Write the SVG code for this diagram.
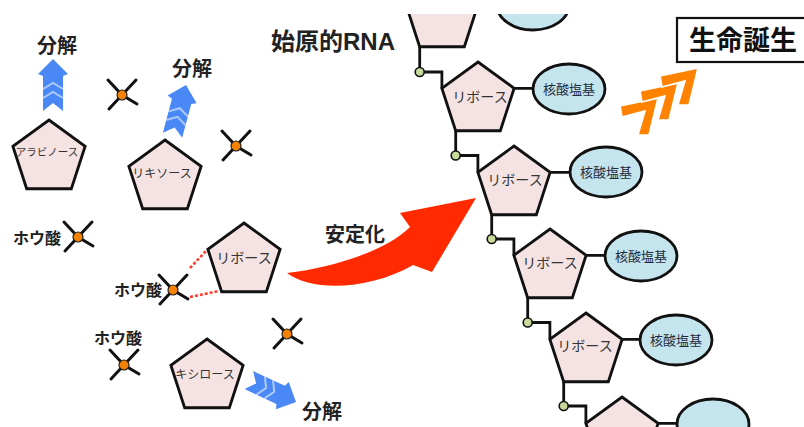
<svg xmlns="http://www.w3.org/2000/svg" xmlns:xlink="http://www.w3.org/1999/xlink" width="804" height="427" viewBox="0 0 804 427">
<style>
.pent{fill:#f5e3e3;stroke:#111;stroke-width:2.8;stroke-linejoin:miter}
.ell{fill:#c4e4ee;stroke:#111;stroke-width:2.8}
.link{fill:none;stroke:#111;stroke-width:2.8}
.ph{fill:#c8d99a;stroke:#111;stroke-width:1.6}
.t{font-family:'Liberation Sans','Noto Sans CJK JP',sans-serif;text-anchor:middle;dominant-baseline:central}
.ps{font-size:14px;fill:#333}
.ps2{font-size:12px;fill:#333}
.ps3{font-size:10.5px;fill:#333}
.es{font-size:13px;fill:#1e2a3a}
.lb{font-weight:bold;fill:#222}
.cross{fill:none;stroke:#111;stroke-width:3;stroke-linecap:round}
.dot{fill:#f58200;stroke:#222;stroke-width:1.2}
.blue{fill:#4a88f5}
.chev{fill:#ff8200;stroke:#fff;stroke-width:1.6;stroke-linejoin:miter}
.dash{fill:none;stroke:#ff4030;stroke-width:2.6;stroke-dasharray:3 2}
</style>
<defs>
<polygon id="pent" points="0,-38 36.14,-11.74 22.34,30.74 -22.34,30.74 -36.14,-11.74"/>
<g id="boric">
<path class="cross" d="M-14,-15 L0,0 L15,9 M14,-15 L0,0 L-13,14"/>
<circle class="dot" cx="0" cy="0" r="5"/>
</g>
<g id="barrow">
<polygon class="blue" points="0,0 15,15 10,17 10,52 0,44 -10,52 -10,17 -15,15"/>
<polyline points="-10,30 0,24 10,30" fill="none" stroke="#fff" stroke-opacity="0.55" stroke-width="2"/>
<polyline points="-10,39 0,33 10,39" fill="none" stroke="#fff" stroke-opacity="0.55" stroke-width="2"/>
</g>
<polygon id="chev" class="chev" points="-38,8 0,0 -9,37 -20,37 -13,13 -36,19"/>
<clipPath id="clipTop"><rect x="0" y="14" width="804" height="413"/></clipPath>
</defs>

<!-- left sugars -->
<g id="arabinose"><use xlink:href="#pent" class="pent" transform="translate(49,158)"/><text class="t ps3" x="47" y="152">アラビノース</text></g>
<g id="lyxose"><use xlink:href="#pent" class="pent" transform="translate(165,178)"/><text class="t ps2" x="162" y="174">リキソース</text></g>
<g id="ribose-free"><use xlink:href="#pent" class="pent" transform="translate(244,261)"/><text class="t ps" x="244" y="258">リボース</text></g>
<g id="xylose"><use xlink:href="#pent" class="pent" transform="translate(207,377)"/><text class="t ps2" x="205" y="375">キシロース</text></g>

<!-- boric acids -->
<g id="boric1"><use xlink:href="#boric" transform="translate(122,95)"/></g>
<g id="boric2"><use xlink:href="#boric" transform="translate(236,146)"/></g>
<g id="boric3"><use xlink:href="#boric" transform="translate(78,237)"/><text class="t lb" style="font-size:16px" x="37" y="238">ホウ酸</text></g>
<g id="boric4"><use xlink:href="#boric" transform="translate(173,290)"/><text class="t lb" style="font-size:16px" x="138" y="290">ホウ酸</text></g>
<g id="boric5"><use xlink:href="#boric" transform="translate(124,365)"/><text class="t lb" style="font-size:16px" x="118" y="338">ホウ酸</text></g>
<g id="boric6"><use xlink:href="#boric" transform="translate(287,334)"/></g>

<!-- decomposition arrows -->
<g id="decomp1"><use xlink:href="#barrow" transform="translate(53,59)"/><text class="t lb" style="font-size:20px" x="57" y="46">分解</text></g>
<g id="decomp2"><use xlink:href="#barrow" transform="translate(186,85) rotate(15)"/><text class="t lb" style="font-size:20px" x="192" y="69">分解</text></g>
<g id="decomp3"><use xlink:href="#barrow" transform="translate(296,402) rotate(115)"/><text class="t lb" style="font-size:20px" x="322" y="412">分解</text></g>

<!-- connectors -->
<g id="connectors">
<path class="dash" d="M190,268 L206,251 M190,297 L219,291"/>
<path d="M287,273 C312,292 370,290 413,265 L432,272 L476,198 L400,213 L410,227 C388,250 332,268 287,273 Z" fill="#ff2a00"/>
<g clip-path="url(#clipTop)">
<path class="link" d="M419.7,46.7 V72 H441.9 V88.3"/>
<path class="link" d="M455.7,130.7 V155.5 H477.9 V172.3"/>
<path class="link" d="M491.7,214.7 V239 H513.9 V255.3"/>
<path class="link" d="M527.7,297.7 V322.5 H549.9 V339.3"/>
<path class="link" d="M563.7,381.7 V406 H585.9 V423.3"/>
<path class="link" d="M478.1,4.3 H497 M514.1,88.3 H533 M550.1,172.3 H570 M586.1,255.3 H605 M622.1,339.3 H640 M658.1,423.3 H677"/>
<circle class="ph" cx="419.7" cy="72" r="4.5"/>
<circle class="ph" cx="455.7" cy="155.5" r="4.5"/>
<circle class="ph" cx="491.7" cy="239" r="4.5"/>
<circle class="ph" cx="527.7" cy="322.5" r="4.5"/>
<circle class="ph" cx="563.7" cy="406" r="4.5"/>
</g>
<g id="chevrons">
<use xlink:href="#chev" transform="translate(658,98)"/>
<use xlink:href="#chev" transform="translate(678,83)"/>
<use xlink:href="#chev" transform="translate(698,68)"/>
</g>
</g>

<!-- RNA chain -->
<g clip-path="url(#clipTop)">
<g id="rna1"><use xlink:href="#pent" class="pent" transform="translate(442,16)"/><ellipse class="ell" cx="533" cy="5" rx="36" ry="25"/></g>
<g id="rna2"><use xlink:href="#pent" class="pent" transform="translate(478,100)"/><text class="t ps" x="480" y="97">リボース</text><ellipse class="ell" cx="569" cy="89" rx="36" ry="25"/><text class="t es" x="569" y="89">核酸塩基</text></g>
<g id="rna3"><use xlink:href="#pent" class="pent" transform="translate(514,184)"/><text class="t ps" x="515" y="180">リボース</text><ellipse class="ell" cx="606" cy="172" rx="36" ry="25"/><text class="t es" x="606" y="172">核酸塩基</text></g>
<g id="rna4"><use xlink:href="#pent" class="pent" transform="translate(550,267)"/><text class="t ps" x="550" y="263">リボース</text><ellipse class="ell" cx="641" cy="256" rx="36" ry="25"/><text class="t es" x="641" y="256">核酸塩基</text></g>
<g id="rna5"><use xlink:href="#pent" class="pent" transform="translate(586,351)"/><text class="t ps" x="585" y="346">リボース</text><ellipse class="ell" cx="676" cy="340" rx="36" ry="25"/><text class="t es" x="676" y="340">核酸塩基</text></g>
<g id="rna6"><use xlink:href="#pent" class="pent" transform="translate(622,435)"/><ellipse class="ell" cx="713" cy="424" rx="36" ry="25"/></g>
</g>

<!-- labels -->
<g id="label-rna"><text class="t lb" style="font-size:24px" x="333" y="41">始原的RNA</text></g>
<g id="label-stab"><text class="t lb" style="font-size:20px" x="355" y="235">安定化</text></g>
<g id="life"><rect x="677" y="18" width="140" height="44" fill="#fff" stroke="#111" stroke-width="2.2"/><text class="t lb" style="font-size:27px;fill:#111" x="743" y="41">生命誕生</text></g>
</svg>
